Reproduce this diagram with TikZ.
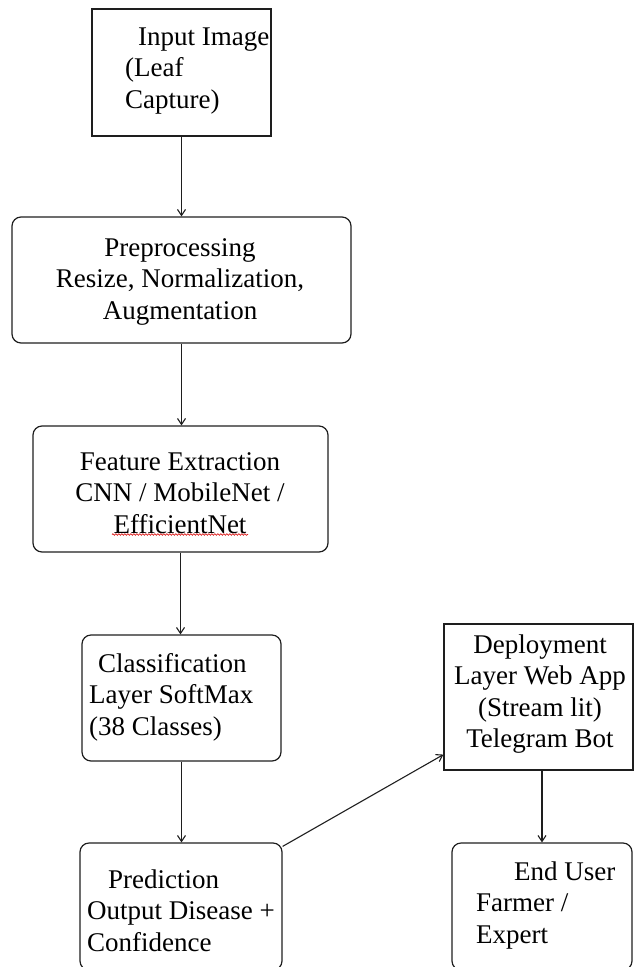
\documentclass[tikz,border=0pt]{standalone}
\usepackage{fontspec}
\setmainfont{Liberation Serif}
\usetikzlibrary{arrows.meta,decorations.pathmorphing}
\definecolor{linecol}{RGB}{30,30,30}
\definecolor{squig}{RGB}{220,30,30}
\newcommand{\firstln}{\rule{0pt}{20pt}}
\tikzset{
  boxsq/.style={draw=linecol, line width=1.2pt, rectangle, inner sep=0pt},
  boxrd/.style={boxsq, rounded corners=9pt},
  txt/.style={inner sep=0pt, font=\fontsize{27}{31.5}\selectfont, text=black},
  conn/.style={draw=linecol, line width=1.1pt, -{Straight Barb[length=6pt,width=8pt]}},
}
\begin{document}
\begin{tikzpicture}[x=1pt,y=-1pt]
\useasboundingbox (0,0) rectangle (634,967);
\clip (0,0) rectangle (634,967);
% boxes
\node[boxsq, minimum width=179pt, minimum height=127pt] (inp) at (181.5,72.5) {};
\node[boxrd, minimum width=339pt, minimum height=126pt] (pre) at (181.5,280) {};
\node[boxrd, minimum width=295pt, minimum height=126pt] (feat) at (180.5,489) {};
\node[boxrd, minimum width=199pt, minimum height=126pt] (cls) at (181.5,698) {};
\node[boxrd, minimum width=202pt, minimum height=127pt] (pred) at (181,906.5) {};
\node[boxsq, minimum width=189pt, minimum height=146pt] (dep) at (538.5,697) {};
\node[boxrd, minimum width=180pt, minimum height=127pt] (end) at (542,906.5) {};
% texts
\node[txt, anchor=north west, align=left] (inpt) at (125,25) {\firstln\hspace*{13pt}Input Image\\(Leaf\\Capture)};
\node[txt, anchor=north, align=center] (pret) at (180,236) {\firstln Preprocessing\\Resize, Normalization,\\Augmentation};
\node[txt, anchor=north, align=center] (featt) at (180,450) {\firstln Feature Extraction\\CNN / MobileNet /\\EfficientNet};
\node[txt, anchor=north west, align=left] (clst) at (89,652) {\firstln\hspace*{9pt}Classification\\Layer SoftMax\\(38 Classes)};
\node[txt, anchor=north west, align=left] (predt) at (87,868) {\firstln\hspace*{21pt}Prediction\\Output Disease +\\Confidence};
\node[txt, anchor=north, align=center] (dept) at (540,633) {\firstln Deployment\\Layer Web App\\(Stream lit)\\Telegram Bot};
\node[txt, anchor=north west, align=left] (endt) at (476,860) {\firstln\hspace*{38pt}End User\\Farmer /\\Expert};
% spell-check squiggle
\draw[squig, line width=0.7pt, decorate, decoration={snake, amplitude=0.8pt, segment length=3pt}] (112,534.5) -- (248,534.5);
% connectors
\draw[conn] (inp.south) -- (pre.north);
\draw[conn] (pre.south) -- (pre.south |- feat.north);
\draw[conn] (feat.south) -- (feat.south |- cls.north);
\draw[conn] (cls.south) -- (cls.south |- pred.north);
\draw[conn] ([yshift=-4pt]pred.north east) -- ([yshift=16pt]dep.south west);
\draw[conn] (end.north |- dep.south) -- (end.north);
\end{tikzpicture}
\end{document}
